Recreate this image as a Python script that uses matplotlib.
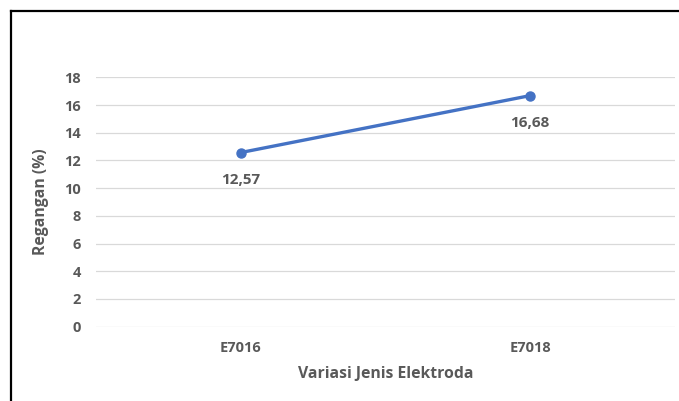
import numpy as np
import matplotlib.pyplot as plt
from matplotlib.lines import Line2D

# strain per electrode type
elektroda = ["E7016", "E7018"]
regangan = [12.57, 16.68]
label_teks = ["12,57", "16,68"]
y_ticks = [0, 2, 4, 6, 8, 10, 12, 14, 16, 18]

grey = "#595959"
plt.rcParams['font.family'] = ['Open Sans', 'DejaVu Sans']

fig = plt.figure(figsize=(6.79, 4.01), dpi=100)
ax = fig.add_axes([0.1414, 0.1853, 0.8526, 0.6219])

x = np.arange(len(elektroda))
ax.plot(x, regangan, color="#4472C4", lw=2.4, marker="o", ms=6.5,
        solid_capstyle="round", zorder=3)

for xi, yi, t in zip(x, regangan, label_teks):
    ax.annotate(t, (xi, yi), xytext=(0, -19.5), textcoords="offset points",
                ha="center", va="center", fontsize=11, fontweight="bold",
                color=grey)

ax.set_xlim(-0.5, len(elektroda) - 0.5)
ax.set_ylim(0, 18)
ax.set_yticks(y_ticks)
ax.set_xticks(x)
ax.set_xticklabels(elektroda)
ax.tick_params(length=0, labelsize=10.5, labelcolor=grey)
ax.tick_params(axis="y", pad=11)
ax.tick_params(axis="x", pad=10)
for lab in ax.get_xticklabels() + ax.get_yticklabels():
    lab.set_fontweight("bold")

ax.grid(axis="y", color="#D9D9D9", lw=0.9)
ax.set_axisbelow(True)
for s in ax.spines.values():
    s.set_visible(False)

ax.set_xlabel("Variasi Jenis Elektroda", fontsize=11.3, fontweight="bold",
              color=grey, labelpad=8)
ax.set_ylabel("Regangan (%)", fontsize=11.3, fontweight="bold",
              color=grey, labelpad=11)

# frame lines along the top and left
fig.add_artist(Line2D([11 / 679, 1.0], [1 - 11 / 401, 1 - 11 / 401],
                      transform=fig.transFigure, color="black", lw=1.6))
fig.add_artist(Line2D([11 / 679, 11 / 679], [0.0, 1 - 11 / 401],
                      transform=fig.transFigure, color="black", lw=1.6))

fig.savefig("out.png", dpi=100)
